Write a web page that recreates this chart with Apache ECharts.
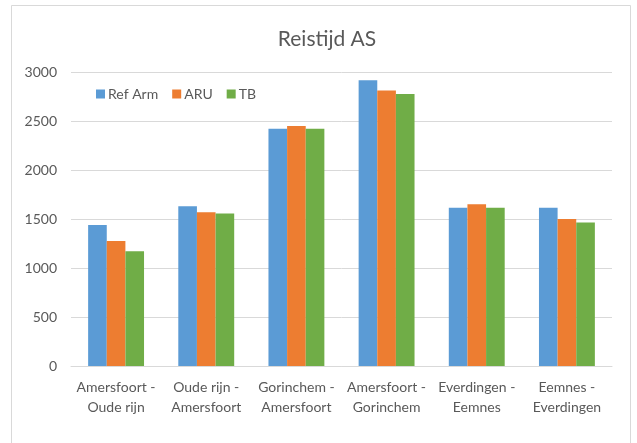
<!DOCTYPE html>
<html>
<head>
<meta charset="utf-8">
<script src="https://cdn.jsdelivr.net/npm/echarts@6/dist/echarts.min.js"></script>
<style>
  html, body { margin: 0; padding: 0; background: #fff; }
  #chart { width: 637px; height: 443px; }
</style>
</head>
<body>
<div id="chart"></div>
<script>
// data
const categories = [
  "Amersfoort -\nOude rijn",
  "Oude rijn -\nAmersfoort",
  "Gorinchem -\nAmersfoort",
  "Amersfoort -\nGorinchem",
  "Everdingen -\nEemnes",
  "Eemnes -\nEverdingen"
];
const refArm = [1440, 1630, 2420, 2915, 1615, 1615];
const aru = [1275, 1570, 2450, 2810, 1650, 1500];
const tb = [1170, 1555, 2420, 2775, 1615, 1465];

const FONT = "Lato";
const TEXT = "#595959";
const GRID = "#D9D9D9";

const chart = echarts.init(document.getElementById("chart"), null, { renderer: "canvas" });

chart.setOption({
  backgroundColor: "#fff",
  animation: false,
  textStyle: { fontFamily: FONT },
  graphic: [
    {
      type: "rect",
      shape: { x: 11.5, y: 5.5, width: 619, height: 460 },
      style: { fill: "none", stroke: GRID, lineWidth: 1 },
      silent: true
    }
  ],
  title: {
    text: "Reistijd AS",
    left: 322,
    textAlign: "center",
    top: 24,
    textStyle: { fontFamily: FONT, fontSize: 21, fontWeight: "normal", color: TEXT }
  },
  legend: {
    left: 91,
    top: 82,
    itemWidth: 9,
    itemHeight: 9,
    itemGap: 14,
    icon: "rect",
    textStyle: { fontFamily: FONT, fontSize: 14, color: TEXT, padding: [0, 0, 0, -2] },
    data: ["Ref Arm", "ARU", "TB"]
  },
  grid: { left: 71, right: 25, top: 72, bottom: 77, containLabel: false },
  xAxis: {
    type: "category",
    data: categories,
    axisLine: { lineStyle: { color: GRID } },
    axisTick: { show: false },
    axisLabel: {
      interval: 0,
      margin: 11,
      fontFamily: FONT,
      fontSize: 14,
      lineHeight: 20,
      color: TEXT
    }
  },
  yAxis: {
    type: "value",
    min: 0,
    max: 3000,
    interval: 500,
    axisLine: { show: false },
    axisTick: { show: false },
    splitLine: { lineStyle: { color: GRID } },
    axisLabel: {
      margin: 14,
      fontFamily: FONT,
      fontSize: 14,
      color: TEXT,
      formatter: (v) => String(v)
    }
  },
  series: [
    { name: "Ref Arm", type: "bar", data: refArm, itemStyle: { color: "#5B9BD5" }, barGap: "0%", barCategoryGap: "38%" },
    { name: "ARU", type: "bar", data: aru, itemStyle: { color: "#ED7D31" }, barGap: "0%", barCategoryGap: "38%" },
    { name: "TB", type: "bar", data: tb, itemStyle: { color: "#70AD47" }, barGap: "0%", barCategoryGap: "38%" }
  ]
});
</script>
</body>
</html>
